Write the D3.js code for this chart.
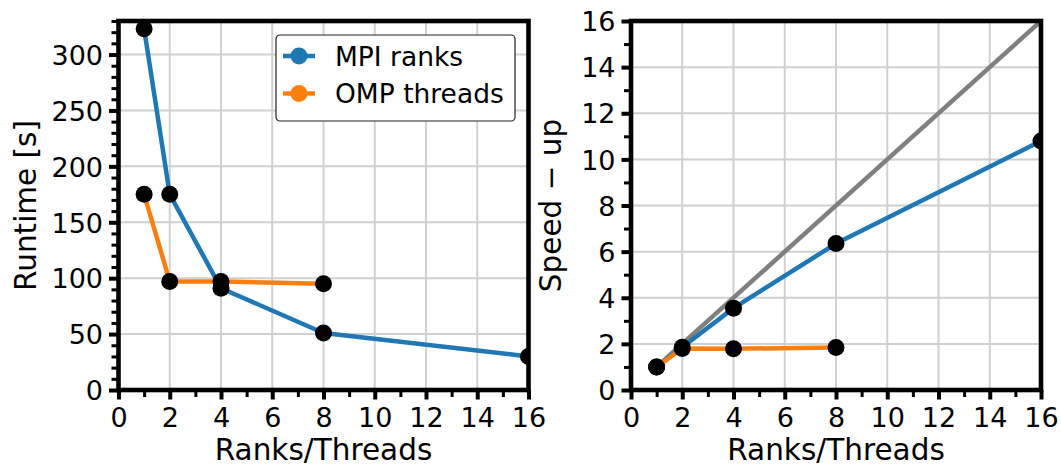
<!DOCTYPE html>
<html>
<head>
<meta charset="utf-8">
<script src="https://cdn.jsdelivr.net/npm/d3@7"></script>
<style>
  html, body { margin: 0; padding: 0; background: #fff; }
  svg { display: block; font-family: "DejaVu Sans", sans-serif; }
</style>
</head>
<body>
<svg id="chart" width="1061" height="467"></svg>
<script>
// Scaling study: runtime and speed-up versus number of MPI ranks / OpenMP threads
const mpiRanks = [1, 2, 4, 8, 16];
const mpiRuntime = [323, 175, 91, 51, 30];
const mpiSpeedup = [1.0, 1.85, 3.55, 6.35, 10.8];

const ompThreads = [1, 2, 4, 8];
const ompRuntime = [175, 97, 97, 95];
const ompSpeedup = [1.0, 1.8, 1.79, 1.84];

const idealX = [1, 16];
const idealY = [1, 16];

const xTicks = [0, 2, 4, 6, 8, 10, 12, 14, 16];
const runtimeTicks = [0, 50, 100, 150, 200, 250, 300];
const speedupTicks = [0, 2, 4, 6, 8, 10, 12, 14, 16];

const seriesColors = { mpi: "#1f77b4", omp: "#ff7f0e", ideal: "#808080" };
const legendLabels = ["MPI ranks", "OMP threads"];

const svg = d3.select("#chart");

function drawPanel(opts) {
  const { left, right, top, bottom, yMax, yMajor, yMinorStep, yLabel, yLabelX, id } = opts;
  const x = d3.scaleLinear().domain([0, 16]).range([left, right]);
  const y = d3.scaleLinear().domain([0, yMax]).range([bottom, top]);
  const g = svg.append("g");

  // grid at major ticks
  g.append("g").selectAll("line").data(xTicks).join("line")
    .attr("x1", d => x(d)).attr("x2", d => x(d))
    .attr("y1", top).attr("y2", bottom)
    .attr("stroke", "#d0d0d0").attr("stroke-width", 2);
  g.append("g").selectAll("line").data(yMajor).join("line")
    .attr("x1", left).attr("x2", right)
    .attr("y1", d => y(d)).attr("y2", d => y(d))
    .attr("stroke", "#d0d0d0").attr("stroke-width", 2);

  // clip for data marks
  svg.append("clipPath").attr("id", id)
    .append("rect").attr("x", left).attr("y", top)
    .attr("width", right - left).attr("height", bottom - top);
  const data = g.append("g").attr("clip-path", `url(#${id})`);
  const line = d3.line().x(d => x(d[0])).y(d => y(d[1]));

  opts.series.forEach(s => {
    const pts = s.xs.map((v, i) => [v, s.ys[i]]);
    data.append("path").datum(pts).attr("d", line)
      .attr("fill", "none").attr("stroke", s.color)
      .attr("stroke-width", 4.5).attr("stroke-linejoin", "round");
    if (s.markers) {
      data.append("g").selectAll("circle").data(pts).join("circle")
        .attr("cx", d => x(d[0])).attr("cy", d => y(d[1]))
        .attr("r", 8.5).attr("fill", "#000");
    }
  });

  // minor ticks
  const xMinor = d3.range(0, 17, 1).filter(v => !xTicks.includes(v));
  const yMinor = d3.range(0, yMax + 1e-9, yMinorStep).filter(v => !yMajor.includes(v));
  const axX = g.append("g").attr("transform", `translate(0,${bottom})`)
    .call(d3.axisBottom(x).tickValues(xMinor).tickSize(7).tickSizeOuter(0).tickFormat(""));
  axX.select(".domain").remove();
  axX.selectAll("line").attr("stroke-width", 3);
  const axY = g.append("g").attr("transform", `translate(${left},0)`)
    .call(d3.axisLeft(y).tickValues(yMinor).tickSize(7).tickSizeOuter(0).tickFormat(""));
  axY.select(".domain").remove();
  axY.selectAll("line").attr("stroke-width", 3);

  // major ticks with labels
  const mx = g.append("g").attr("transform", `translate(0,${bottom})`)
    .call(d3.axisBottom(x).tickValues(xTicks).tickSize(9.5).tickSizeOuter(0).tickPadding(8).tickFormat(d3.format("d")));
  mx.select(".domain").remove();
  mx.selectAll("line").attr("stroke-width", 4);
  mx.selectAll("text").attr("font-size", 27).attr("fill", "#000")
    .attr("font-family", "DejaVu Sans").attr("dy", "0.73em");
  const my = g.append("g").attr("transform", `translate(${left},0)`)
    .call(d3.axisLeft(y).tickValues(yMajor).tickSize(9.5).tickSizeOuter(0).tickPadding(6).tickFormat(d3.format("d")));
  my.select(".domain").remove();
  my.selectAll("line").attr("stroke-width", 4);
  my.selectAll("text").attr("font-size", 27).attr("fill", "#000")
    .attr("font-family", "DejaVu Sans").attr("dy", "0.36em");

  // spines
  g.append("rect").attr("x", left).attr("y", top)
    .attr("width", right - left).attr("height", bottom - top)
    .attr("fill", "none").attr("stroke", "#000").attr("stroke-width", 4.6);

  // axis labels
  g.append("text").attr("x", (left + right) / 2).attr("y", 460)
    .attr("text-anchor", "middle").attr("font-size", 29.5).text("Ranks/Threads");
  g.append("text")
    .attr("transform", `translate(${yLabelX},${(top + bottom) / 2}) rotate(-90)`)
    .attr("text-anchor", "middle").attr("font-size", 29.5).text(yLabel);

  return { x, y, g };
}

drawPanel({
  id: "clipRuntime", left: 118.5, right: 528.5, top: 21, bottom: 390,
  yMax: 330, yMajor: runtimeTicks, yMinorStep: 10,
  yLabel: "Runtime [s]", yLabelX: 35.5,
  series: [
    { xs: mpiRanks, ys: mpiRuntime, color: seriesColors.mpi, markers: true },
    { xs: ompThreads, ys: ompRuntime, color: seriesColors.omp, markers: true }
  ]
});

drawPanel({
  id: "clipSpeedup", left: 631, right: 1041, top: 21, bottom: 390,
  yMax: 16, yMajor: speedupTicks, yMinorStep: 1,
  yLabel: "Speed \u2212 up", yLabelX: 561,
  series: [
    { xs: idealX, ys: idealY, color: seriesColors.ideal, markers: false },
    { xs: mpiRanks, ys: mpiSpeedup, color: seriesColors.mpi, markers: true },
    { xs: ompThreads, ys: ompSpeedup, color: seriesColors.omp, markers: true }
  ]
});

// legend in the runtime panel
const lg = svg.append("g").attr("transform", "translate(276,35)");
lg.append("rect").attr("x", 0).attr("y", 0).attr("width", 239).attr("height", 86)
  .attr("rx", 4).attr("fill", "#fff").attr("stroke", "#222").attr("stroke-width", 1.2);
[seriesColors.mpi, seriesColors.omp].forEach((c, i) => {
  const cy = 21 + i * 37.5;
  lg.append("line").attr("x1", 7).attr("x2", 39).attr("y1", cy).attr("y2", cy)
    .attr("stroke", c).attr("stroke-width", 4.5);
  lg.append("circle").attr("cx", 23).attr("cy", cy).attr("r", 8.5).attr("fill", c);
  lg.append("text").attr("x", 59).attr("y", cy + 9.5)
    .attr("font-size", 26.5).attr("fill", "#000").text(legendLabels[i]);
});
</script>
</body>
</html>
